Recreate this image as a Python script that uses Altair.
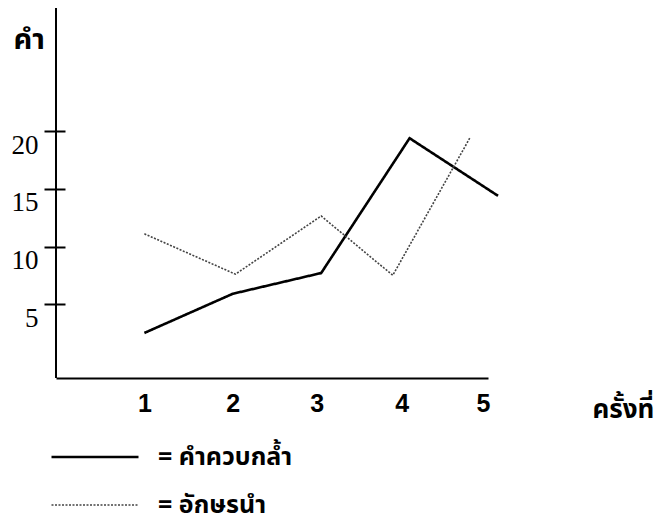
import altair as alt
import pandas as pd

series = ["คำควบกล้ำ", "อักษรนำ"]
solid_x = [1, 2, 3, 4, 5]
solid_y = [2.5, 5.9, 7.7, 19.4, 14.4]
dotted_x = [1, 2.03, 3.0, 3.81, 4.68]
dotted_y = [11.1, 7.6, 12.65, 7.5, 19.4]

x_tick_pos = [1, 2, 2.95, 3.91, 4.83]
x_tick_labels = ["1", "2", "3", "4", "5"]
y_ticks = [5, 10, 15, 20]

rows = []
for i, (xv, yv) in enumerate(zip(solid_x, solid_y)):
    rows.append({"s": series[0], "x": xv, "y": yv, "o": i})
for i, (xv, yv) in enumerate(zip(dotted_x, dotted_y)):
    rows.append({"s": series[1], "x": xv, "y": yv, "o": i})
df = pd.DataFrame(rows)

label_map = "{" + ",".join(f"'{p}':'{l}'" for p, l in zip(x_tick_pos, x_tick_labels)) + "}"

W, H = 432, 370
thai = "Noto Sans Thai, Loma, Garuda, Noto Sans, DejaVu Sans, sans-serif"

xscale = alt.Scale(domain=[0, 4.887], nice=False, zero=False)
yscale = alt.Scale(domain=[-1.41, 30.7], nice=False, zero=False)


def leg():
    return alt.Legend(title=None, orient="none", legendX=-6, legendY=431,
                      symbolType="stroke", symbolSize=7569,
                      clipHeight=36, rowPadding=12, labelOffset=18,
                      labelFont=thai, labelFontSize=25, labelFontWeight="bold",
                      labelColor="black",
                      labelExpr="'= ' + datum.label")


lines = alt.Chart(df).mark_line(clip=False).encode(
    x=alt.X("x:Q", scale=xscale, axis=alt.Axis(
        values=x_tick_pos,
        labelExpr=f"{label_map}[datum.value + '']",
        ticks=False, grid=False, domainWidth=2, domainColor="black",
        labelFont="Liberation Sans", labelFontWeight="bold",
        labelFontSize=25, labelColor="black", labelPadding=13,
        title="ครั้งที่", titleFont=thai, titleFontSize=26, titleFontWeight="bold",
        titleAlign="left", titleAnchor="start", titleX=536, titleY=39,
        titleBaseline="alphabetic", titleColor="black")),
    y=alt.Y("y:Q", scale=yscale, axis=alt.Axis(
        values=y_ticks, domain=False, grid=False, offset=-9,
        tickSize=21, tickWidth=2, tickColor="black",
        labelFont="Liberation Serif", labelFontSize=27, labelColor="black",
        labelPadding=6, labelBaseline="top", labelOffset=1,
        title="คำ", titleFont=thai, titleFontSize=29, titleFontWeight="bold",
        titleAngle=0, titleAlign="left", titleAnchor="start",
        titleX=-52, titleY=40, titleBaseline="alphabetic", titleColor="black")),
    order="o:Q",
    color=alt.Color("s:N", scale=alt.Scale(domain=series, range=["black", "#444444"]),
                    legend=leg()),
    strokeDash=alt.StrokeDash("s:N", scale=alt.Scale(domain=series, range=[[1, 0], [2, 1.5]]),
                              legend=leg()),
    strokeWidth=alt.StrokeWidth("s:N", scale=alt.Scale(domain=series, range=[2.6, 1.6]),
                                legend=leg()),
)

yline = alt.Chart(df).mark_rule(color="black", strokeWidth=2).encode(
    x=alt.value(0), y=alt.value(0), y2=alt.value(H)
)

chart = alt.layer(yline, lines).properties(
    width=W, height=H,
    background="white",
    autosize=alt.AutoSizeParams(type="none"),
    padding={"left": 48, "top": 0, "right": 169, "bottom": 148},
).configure_view(stroke=None)

chart.save("out.html", embed_options={"renderer": "svg", "actions": False})
